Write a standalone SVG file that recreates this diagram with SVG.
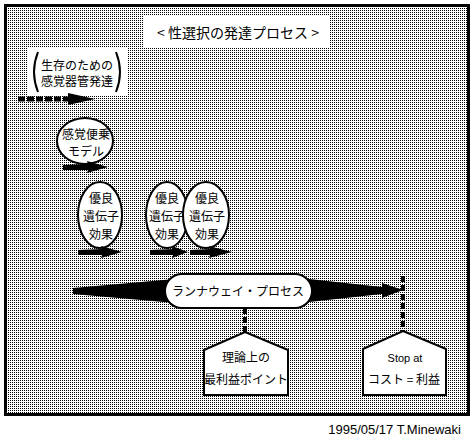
<svg xmlns="http://www.w3.org/2000/svg" width="473" height="442" viewBox="0 0 473 442">
<defs>
<pattern id="dots" width="2" height="2" patternUnits="userSpaceOnUse"><rect width="2" height="2" fill="#fff"/><rect width="1" height="1" fill="#000"/></pattern>
<style>
.t{font-family:"Noto Sans CJK JP","Noto Sans",sans-serif;font-size:12px;fill:#000;text-anchor:middle}
.l{font-family:"Liberation Sans",Arial,sans-serif;fill:#000}
.sh{fill:#fff;stroke:#000;stroke-width:2}
.blk{fill:#000}
.dash{stroke:#000;fill:none}
</style>
</defs>
<rect width="473" height="442" fill="#fff"/>
<rect x="5.5" y="5.5" width="463" height="409" fill="url(#dots)" stroke="#000" stroke-width="3"/>

<g id="title">
<rect x="143" y="16" width="187" height="32" fill="#fff"/>
<text class="t" x="238" y="38" style="font-size:14px">&lt; 性選択の発達プロセス &gt;</text>
</g>

<g id="sense-organ">
<rect x="27" y="48" width="100" height="47" fill="#fff"/>
<path d="M38,52 Q30,72 38,92" stroke="#000" stroke-width="2" fill="none"/>
<path d="M116,52 Q124,72 116,92" stroke="#000" stroke-width="2" fill="none"/>
<text class="t" x="77" y="70">生存のための</text>
<text class="t" x="77" y="86">感覚器管発達</text>
</g>

<g id="sensory-bias">
<ellipse class="sh" cx="85" cy="141" rx="28" ry="23"/>
<text class="t" x="86" y="139">感覚便乗</text>
<text class="t" x="86" y="156">モデル</text>
</g>

<g id="good-genes-1">
<ellipse class="sh" cx="100" cy="215" rx="22" ry="33"/>
<text class="t" x="101" y="203">優良</text>
<text class="t" x="101" y="221">遺伝子</text>
<text class="t" x="101" y="239">効果</text>
</g>

<g id="good-genes-2">
<ellipse class="sh" cx="167" cy="215" rx="21" ry="33"/>
<text class="t" x="167" y="203">優良</text>
<text class="t" x="167" y="221">遺伝子</text>
<text class="t" x="167" y="239">効果</text>
</g>

<g id="good-genes-3">
<ellipse class="sh" cx="206" cy="215" rx="23" ry="33"/>
<text class="t" x="207" y="203">優良</text>
<text class="t" x="207" y="221">遺伝子</text>
<text class="t" x="207" y="239">効果</text>
</g>

<g id="connectors">
<line class="dash" x1="18" y1="99" x2="70" y2="99" stroke-width="5" stroke-dasharray="7,2"/>
<polygon class="blk" points="68,93 95,99 68,105"/>
<polygon class="blk" points="63,165 88,164 87,161 108,167 87,173 88,170 63,170"/>
<polygon class="blk" points="78,250 102,249 101,246 122,252 101,258 102,255 78,255"/>
<polygon class="blk" points="150,250 173,249 172,246 188,252 172,258 173,255 150,255"/>
<polygon class="blk" points="190,250 210,249 209,246 232,252 209,258 210,255 190,255"/>
<polygon class="blk" points="73,288 175,279 175,303 73,294"/>
<polygon class="blk" points="300,278 382,287 382,283 403,290 382,298 382,294 300,303"/>
<line class="dash" x1="403" y1="276" x2="403" y2="331" stroke-width="4" stroke-dasharray="6,3"/>
<line class="dash" x1="245" y1="308" x2="245" y2="332" stroke-width="4" stroke-dasharray="6,3"/>
</g>

<g id="runaway">
<rect class="sh" x="165" y="274" width="147" height="34" rx="17"/>
<text class="t" x="238" y="296">ランナウェイ・プロセス</text>
</g>

<g id="theory-optimum">
<polygon class="sh" points="245,332 288,350 288,395 204,395 204,350"/>
<text class="t" x="246" y="362">理論上の</text>
<text class="t" x="246" y="384">最利益ポイント</text>
</g>

<g id="stop-at">
<polygon class="sh" points="403,331 446,349 446,395 363,395 363,349"/>
<text class="l" x="405" y="362" font-size="11" text-anchor="middle">Stop at</text>
<text class="t" x="404" y="384">コスト = 利益</text>
</g>

<text class="l" x="461" y="434" font-size="13" text-anchor="end">1995/05/17 T.Minewaki</text>
</svg>
